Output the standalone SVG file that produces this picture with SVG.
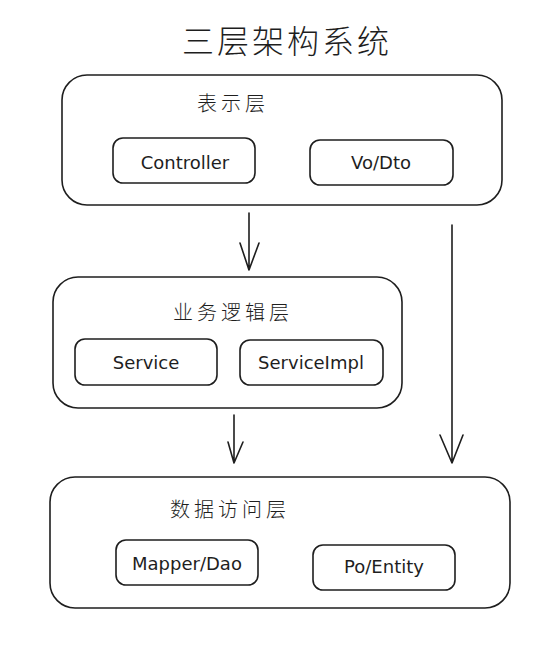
<svg xmlns="http://www.w3.org/2000/svg" width="554" height="647" viewBox="0 0 554 647">
<style>
.layer{fill:none;stroke:#1e1e1e;stroke-width:1.6}
.item{fill:none;stroke:#1e1e1e;stroke-width:1.6}
.lbl{font-family:"DejaVu Sans","Liberation Sans",sans-serif;font-size:18px;fill:#1e1e1e;text-anchor:middle}
.cjk{font-family:"Noto Sans CJK SC","Noto Sans",sans-serif;font-size:20px;fill:#1e1e1e;letter-spacing:4px;font-weight:300}
.title{font-family:"Noto Sans CJK SC","Noto Sans",sans-serif;font-size:32px;fill:#1e1e1e;letter-spacing:3px;font-weight:300}
.conn{fill:none;stroke:#1e1e1e;stroke-width:1.6;stroke-linecap:round;stroke-linejoin:round}
</style>
<rect width="554" height="647" fill="#ffffff"/>
<text id="title" class="title" x="182" y="53">三层架构系统</text>
<g id="presentation">
<rect class="layer" x="62" y="75" width="440" height="130" rx="25"/>
<text class="cjk" x="197" y="111">表示层</text>
</g>
<g id="controller">
<rect class="item" x="113" y="138" width="142" height="45" rx="10"/>
<text class="lbl" x="185" y="169">Controller</text>
</g>
<g id="vodto">
<rect class="item" x="310" y="140" width="143" height="45" rx="10"/>
<text class="lbl" x="381" y="169">Vo/Dto</text>
</g>
<g id="business">
<rect class="layer" x="53" y="277" width="349" height="131" rx="25"/>
<text class="cjk" x="173" y="320">业务逻辑层</text>
</g>
<g id="service">
<rect class="item" x="75" y="339" width="142" height="46" rx="10"/>
<text class="lbl" x="146" y="369">Service</text>
</g>
<g id="serviceimpl">
<rect class="item" x="240" y="340" width="143" height="45" rx="10"/>
<text class="lbl" x="311" y="369">ServiceImpl</text>
</g>
<g id="dataaccess">
<rect class="layer" x="50" y="477" width="460" height="131" rx="25"/>
<text class="cjk" x="170" y="517">数据访问层</text>
</g>
<g id="mapperdao">
<rect class="item" x="116" y="540" width="142" height="45" rx="10"/>
<text class="lbl" x="187" y="570">Mapper/Dao</text>
</g>
<g id="poentity">
<rect class="item" x="313" y="545" width="142" height="45" rx="10"/>
<text class="lbl" x="384" y="573">Po/Entity</text>
</g>
<g id="connectors">
<path class="conn" d="M249 213 L249 270 M240 243 L249 270 L259 243"/>
<path class="conn" d="M234 415 L234 463 M228 442 L234 463 L243 442"/>
<path class="conn" d="M452 225 L452 463 M440 435 L452 463 L463 435"/>
</g>
</svg>
